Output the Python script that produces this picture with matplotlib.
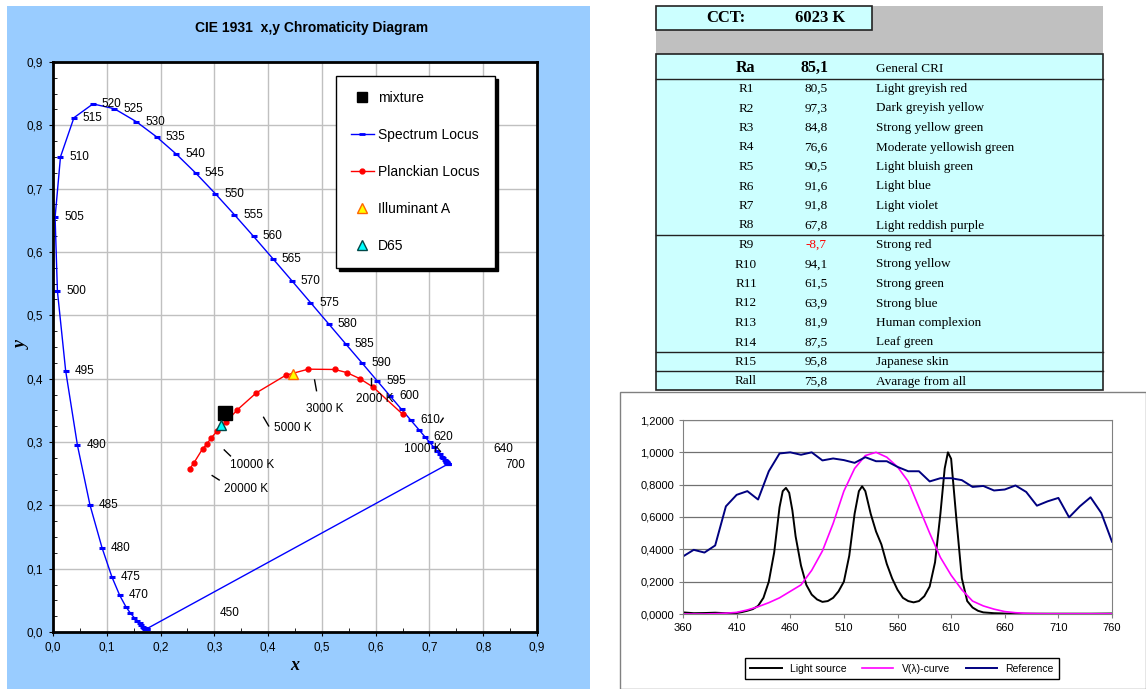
import matplotlib
matplotlib.use("Agg")
import matplotlib.pyplot as plt
from matplotlib.patches import Rectangle
from matplotlib.lines import Line2D
from matplotlib.ticker import FuncFormatter, MultipleLocator

W, H = 1146, 689

# ---- CIE 1931 spectrum locus, 5 nm steps ----
wl = list(range(380, 705, 5))
loc_x = [0.1741, 0.1740, 0.1738, 0.1736, 0.1733, 0.1730, 0.1726, 0.1721, 0.1714, 0.1703,
         0.1689, 0.1669, 0.1644, 0.1611, 0.1566, 0.1510, 0.1440, 0.1355, 0.1241, 0.1096,
         0.0913, 0.0687, 0.0454, 0.0235, 0.0082, 0.0039, 0.0139, 0.0389, 0.0743, 0.1142,
         0.1547, 0.1929, 0.2296, 0.2658, 0.3016, 0.3373, 0.3731, 0.4087, 0.4441, 0.4788,
         0.5125, 0.5448, 0.5752, 0.6029, 0.6270, 0.6482, 0.6658, 0.6801, 0.6915, 0.7006,
         0.7079, 0.7140, 0.7190, 0.7230, 0.7260, 0.7283, 0.7300, 0.7311, 0.7320, 0.7327,
         0.7334, 0.7340, 0.7344, 0.7346, 0.7347]
loc_y = [0.0050, 0.0050, 0.0049, 0.0049, 0.0048, 0.0048, 0.0048, 0.0048, 0.0051, 0.0058,
         0.0069, 0.0086, 0.0109, 0.0138, 0.0177, 0.0227, 0.0297, 0.0399, 0.0578, 0.0868,
         0.1327, 0.2007, 0.2950, 0.4127, 0.5384, 0.6548, 0.7502, 0.8120, 0.8338, 0.8262,
         0.8059, 0.7816, 0.7543, 0.7243, 0.6923, 0.6589, 0.6245, 0.5896, 0.5547, 0.5202,
         0.4866, 0.4544, 0.4242, 0.3965, 0.3725, 0.3514, 0.3340, 0.3197, 0.3083, 0.2993,
         0.2920, 0.2859, 0.2809, 0.2770, 0.2740, 0.2717, 0.2700, 0.2689, 0.2680, 0.2673,
         0.2666, 0.2660, 0.2656, 0.2654, 0.2653]
wl_labels = list(range(470, 605, 5)) + [610, 620]
free_labels = ["450", "640", "700"]
free_x = [0.329, 0.838, 0.859]
free_y = [0.030, 0.289, 0.264]

# ---- Planckian locus ----
planck_x = [0.2546, 0.2620, 0.2780, 0.2860, 0.2937, 0.3055, 0.3210, 0.3430, 0.3780, 0.4330,
            0.4746, 0.5240, 0.5460, 0.5706, 0.5954, 0.6500]
planck_y = [0.2580, 0.2670, 0.2890, 0.2965, 0.3060, 0.3175, 0.3310, 0.3510, 0.3776, 0.4055,
            0.4150, 0.4145, 0.4097, 0.4000, 0.3866, 0.3440]

# isotemperature marks and their labels
cct_names = ["20000 K", "10000 K", "5000 K", "3000 K", "2000 K", "1000 K"]
cct_x0 = [0.296, 0.3184, 0.3916, 0.4864, 0.5905, 0.7206]
cct_y0 = [0.247, 0.2875, 0.339, 0.398, 0.4018, 0.3313]
cct_x1 = [0.309, 0.330, 0.401, 0.490, 0.5905, 0.7255]
cct_y1 = [0.240, 0.278, 0.3254, 0.381, 0.390, 0.3376]
cct_lx = [0.359, 0.371, 0.4455, 0.506, 0.5985, 0.6880]
cct_ly = [0.2255, 0.2638, 0.3217, 0.3528, 0.3675, 0.2890]

mix_xy = (0.319, 0.3455)
illA_xy = (0.4455, 0.408)
d65_xy = (0.3115, 0.327)

# ---- CRI table ----
cct_value = 6023
ra_value = 85.1
cri_names = ["R1", "R2", "R3", "R4", "R5", "R6", "R7", "R8", "R9", "R10",
             "R11", "R12", "R13", "R14", "R15", "Rall"]
cri_vals = [80.5, 97.3, 84.8, 76.6, 90.5, 91.6, 91.8, 67.8, -8.7, 94.1,
            61.5, 63.9, 81.9, 87.5, 95.8, 75.8]
cri_desc = ["Light greyish red", "Dark greyish yellow", "Strong yellow green",
            "Moderate yellowish green", "Light bluish green", "Light blue",
            "Light violet", "Light reddish purple", "Strong red", "Strong yellow",
            "Strong green", "Strong blue", "Human complexion", "Leaf green",
            "Japanese skin", "Avarage from all"]

# ---- spectra ----
ls_wl = [360, 370, 380, 390, 400, 410, 415, 420, 425, 430, 435, 440, 445, 450, 453, 456,
         459, 462, 465, 470, 475, 480, 485, 490, 495, 500, 505, 510, 515, 520, 524, 527,
         530, 535, 540, 545, 550, 555, 560, 565, 570, 575, 580, 585, 590, 595, 600, 604,
         607, 610, 615, 620, 625, 630, 635, 640, 650, 660, 680, 700, 720, 740, 760]
ls_val = [0.010, 0.005, 0.006, 0.008, 0.005, 0.006, 0.012, 0.020, 0.030, 0.050, 0.100,
          0.200, 0.380, 0.660, 0.760, 0.780, 0.750, 0.640, 0.480, 0.300, 0.180, 0.120,
          0.090, 0.075, 0.080, 0.100, 0.140, 0.200, 0.360, 0.620, 0.760, 0.790, 0.760,
          0.620, 0.510, 0.430, 0.310, 0.220, 0.150, 0.100, 0.080, 0.072, 0.080, 0.110,
          0.170, 0.320, 0.620, 0.900, 1.000, 0.960, 0.580, 0.220, 0.080, 0.040, 0.020,
          0.010, 0.005, 0.003, 0.002, 0.002, 0.002, 0.002, 0.003]
v_wl = list(range(360, 770, 10))
v_val = [0.0, 0.0, 0.0, 0.002, 0.005, 0.010, 0.025, 0.045, 0.070, 0.100, 0.140, 0.180,
         0.270, 0.390, 0.560, 0.760, 0.900, 0.980, 1.000, 0.970, 0.910, 0.820, 0.660,
         0.500, 0.350, 0.240, 0.150, 0.080, 0.050, 0.030, 0.015, 0.008, 0.004, 0.002,
         0.001, 0.001, 0.001, 0.001, 0.001, 0.001, 0.001]
ref_wl = list(range(360, 770, 10))
ref_val = [0.356, 0.397, 0.380, 0.424, 0.666, 0.737, 0.760, 0.708, 0.883, 0.993, 1.000,
           0.985, 1.000, 0.950, 0.962, 0.952, 0.935, 0.970, 0.945, 0.945, 0.910, 0.883,
           0.883, 0.820, 0.840, 0.840, 0.828, 0.786, 0.792, 0.764, 0.770, 0.795, 0.755,
           0.670, 0.697, 0.718, 0.598, 0.666, 0.722, 0.625, 0.447]


def box(l, t, r, b):
    return [l / W, 1 - b / H, (r - l) / W, (b - t) / H]


def comma(v, nd):
    return f"{v:.{nd}f}".replace(".", ",")


plt.rcParams["font.family"] = ["Liberation Sans", "DejaVu Sans"]
fig = plt.figure(figsize=(W / 100, H / 100), dpi=100)

# overlay in pixel coordinates for panels and the table
ov = fig.add_axes([0, 0, 1, 1], zorder=0)
ov.set_xlim(0, W)
ov.set_ylim(H, 0)
ov.axis("off")
ov.add_patch(Rectangle((7, 6), 583, 683, color="#99CCFF", lw=0))
ov.text(312, 28, "CIE 1931  x,y Chromaticity Diagram", ha="center", va="center",
        fontsize=10, fontweight="bold")
ov.text(295, 665, "x", ha="center", va="center", fontsize=13, fontweight="bold",
        fontstyle="italic", family="Liberation Serif")
ov.text(22, 345, "y", ha="center", va="center", fontsize=13, fontweight="bold",
        fontstyle="italic", family="Liberation Serif", rotation=90)

# ---- chromaticity diagram ----
ax = fig.add_axes(box(53, 62, 537, 632), zorder=2)
ax.set_xlim(0, 0.9)
ax.set_ylim(0, 0.9)
ax.xaxis.set_major_locator(MultipleLocator(0.1))
ax.yaxis.set_major_locator(MultipleLocator(0.1))
ax.xaxis.set_minor_locator(MultipleLocator(0.05))
ax.yaxis.set_minor_locator(MultipleLocator(0.025))
ax.xaxis.set_major_formatter(FuncFormatter(lambda v, p: comma(v, 1)))
ax.yaxis.set_major_formatter(FuncFormatter(lambda v, p: comma(v, 1)))
ax.tick_params(which="major", direction="out", length=3, labelsize=8.5, pad=4)
ax.tick_params(which="minor", direction="in", length=3)
ax.grid(True, which="major", color="#C0C0C0", lw=1)
ax.set_axisbelow(True)
for s in ax.spines.values():
    s.set_linewidth(2)

ax.plot(loc_x, loc_y, color="#0000FF", lw=1, marker="_", ms=5, mew=2.2)
ax.plot([loc_x[-1], loc_x[0]], [loc_y[-1], loc_y[0]], color="#0000FF", lw=1)
for w in wl_labels:
    i = wl.index(w)
    ax.annotate(str(w), (loc_x[i], loc_y[i]), xytext=(9, 0), textcoords="offset pixels",
                ha="left", va="center", fontsize=8.5)
for t, fx, fy in zip(free_labels, free_x, free_y):
    ax.text(fx, fy, t, ha="center", va="center", fontsize=8.5)

ax.plot(planck_x, planck_y, color="#FF0000", lw=1, marker="o", ms=3.5)
for i in range(len(cct_names)):
    ax.plot([cct_x0[i], cct_x1[i]], [cct_y0[i], cct_y1[i]], color="black", lw=1)
    ax.text(cct_lx[i], cct_ly[i], cct_names[i], ha="center", va="center", fontsize=8.5)

ax.plot(*mix_xy, marker="s", color="black", ms=9.5, ls="none")
ax.plot(*illA_xy, marker="^", mfc="#FFFF00", mec="#FF6600", ms=7, ls="none")
ax.plot(*d65_xy, marker="^", mfc="#00FFFF", mec="#004848", ms=7, ls="none")

handles = [
    Line2D([], [], color="black", marker="s", ls="none", ms=6.5),
    Line2D([], [], color="#0000FF", lw=1, marker="_", ms=5, mew=2),
    Line2D([], [], color="#FF0000", lw=1, marker="o", ms=3.5),
    Line2D([], [], marker="^", mfc="#FFFF00", mec="#FF6600", ms=6.5, ls="none"),
    Line2D([], [], marker="^", mfc="#00FFFF", mec="#004848", ms=6.5, ls="none"),
]
leg = ax.legend(handles, ["mixture", "Spectrum Locus", "Planckian Locus", "Illuminant A", "D65"],
                loc="upper left", bbox_to_anchor=((336 - 53) / 484, (632 - 76) / 570),
                borderaxespad=0, fontsize=10, labelspacing=1.65, borderpad=1.1,
                handlelength=1.6, handletextpad=0.35, fancybox=False, framealpha=1,
                edgecolor="black", shadow={"facecolor": "black", "edgecolor": "black", "alpha": 1})
leg.get_frame().set_linewidth(1)

# ---- CCT / CRI table ----
ov.add_patch(Rectangle((656, 6), 447, 48, color="#C0C0C0", lw=0))
ov.add_patch(Rectangle((656, 6), 216, 24, facecolor="#CCFFFF", edgecolor="#222222", lw=1.2))
ov.text(726, 18, "CCT:", ha="center", va="center", fontsize=12, fontweight="bold",
        family="Liberation Serif")
ov.text(820, 18, f"{cct_value} K", ha="center", va="center", fontsize=12, fontweight="bold",
        family="Liberation Serif")
ov.add_patch(Rectangle((656, 54), 447, 336, facecolor="#CCFFFF", edgecolor="#222222", lw=1.2))
for yy in [79, 235, 351.5, 371]:
    ov.plot([656, 1103], [yy, yy], color="#222222", lw=1)
ov.text(745, 68, "Ra", ha="center", va="center", fontsize=11.5, fontweight="bold",
        family="Liberation Serif")
ov.text(815, 68, comma(ra_value, 1), ha="center", va="center", fontsize=11.5,
        fontweight="bold", family="Liberation Serif")
ov.text(876, 69, "General CRI", ha="left", va="center", fontsize=9.5, family="Liberation Serif")
for i, (n, v, d) in enumerate(zip(cri_names, cri_vals, cri_desc)):
    yy = 89 + i * 19.5
    ov.text(746, yy, n, ha="center", va="center", fontsize=9.5, family="Liberation Serif")
    ov.text(816, yy, comma(v, 1), ha="center", va="center", fontsize=9.5,
            family="Liberation Serif", color="#FF0000" if v < 0 else "black")
    ov.text(876, yy, d, ha="left", va="center", fontsize=9.5, family="Liberation Serif")

# ---- spectra chart ----
ov.add_patch(Rectangle((620, 392), 526, 297, facecolor="white", edgecolor="#808080", lw=1))
ax2 = fig.add_axes(box(683, 420, 1112, 614), zorder=2)
ax2.plot(ls_wl, ls_val, color="black", lw=1.4, label="Light source")
ax2.plot(v_wl, v_val, color="#FF00FF", lw=1.2, label="V(\u03bb)-curve")
ax2.plot(ref_wl, ref_val, color="#000080", lw=1.4, label="Reference")
ax2.set_xlim(360, 760)
ax2.set_ylim(0, 1.2)
ax2.set_xticks(range(360, 761, 50))
ax2.yaxis.set_major_locator(MultipleLocator(0.2))
ax2.yaxis.set_major_formatter(FuncFormatter(lambda v, p: comma(v, 4)))
ax2.tick_params(labelsize=8, length=3, color="#808080")
ax2.grid(True, axis="y", color="#707070", lw=0.9)
ax2.set_axisbelow(True)
for s in ax2.spines.values():
    s.set_color("#808080")
fig.legend(*ax2.get_legend_handles_labels(), loc="center", ncol=3,
           bbox_to_anchor=(902 / W, 1 - 668.5 / H), fontsize=7.5, fancybox=False,
           edgecolor="black", framealpha=1, handlelength=3.0, columnspacing=1.5,
           borderpad=0.5)

fig.savefig("out.png", dpi=100)
